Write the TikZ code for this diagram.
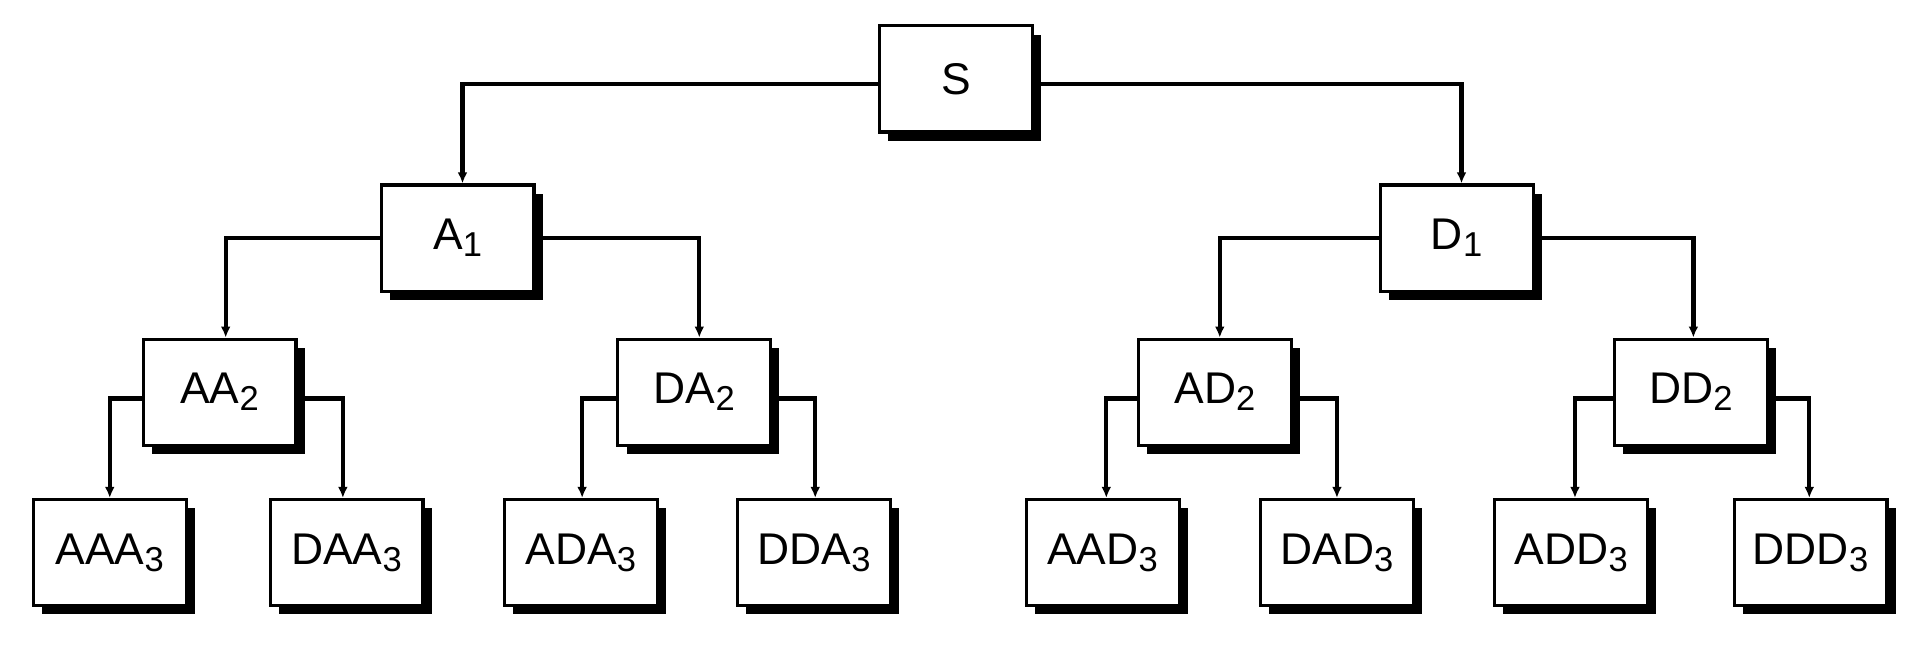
\documentclass[tikz,border=0pt]{standalone}
\usepackage{fontspec}
\setmainfont{Liberation Sans}
\usetikzlibrary{shadows,arrows.meta}
\newcommand{\sbs}[1]{\raisebox{-0.3ex}{\fontsize{28}{30}\selectfont #1}}
\begin{document}
\begin{tikzpicture}[x=1pt,y=-1pt,
  box/.style={draw,line width=2.5pt,fill=white,minimum width=124pt,minimum height=86pt,inner sep=0pt,
    font=\fontsize{36}{40}\selectfont,
    drop shadow={shadow xshift=7pt,shadow yshift=-7pt,fill=black,opacity=1}},
  conn/.style={line width=3.5pt,-{Latex[length=9pt,width=8pt]}},
]
\useasboundingbox (0,0) rectangle (1560,535);
\node[box] (S) at (775,64) {S};
\node[box] (A1) at (371,193) {A\sbs{1}};
\node[box] (D1) at (1181,193) {D\sbs{1}};
\node[box] (AA2) at (178,318) {AA\sbs{2}};
\node[box] (DA2) at (563,318) {DA\sbs{2}};
\node[box] (AD2) at (985,318) {AD\sbs{2}};
\node[box] (DD2) at (1371,318) {DD\sbs{2}};
\foreach \n/\t/\x in {AAA3/AAA/89,DAA3/DAA/281,ADA3/ADA/471,DDA3/DDA/660,AAD3/AAD/894,DAD3/DAD/1084,ADD3/ADD/1274,DDD3/DDD/1468}
  \node[box] (\n) at (\x,448) {\t\sbs{3}};
\draw[conn] (S.west|-0,68) -| (A1.north-|375,0);
\draw[conn] (S.east|-0,68) -| (D1.north-|1185,0);
\draw[conn] (A1.west|-0,193) -| (AA2.north-|183,0);
\draw[conn] (A1.east|-0,193) -| (DA2.north-|567,0);
\draw[conn] (D1.west|-0,193) -| (AD2.north-|989,0);
\draw[conn] (D1.east|-0,193) -| (DD2.north-|1373,0);
\draw[conn] (AA2.west|-0,323) -| (AAA3.north-|89,0);
\draw[conn] (AA2.east|-0,323) -| (DAA3.north-|278,0);
\draw[conn] (DA2.west|-0,323) -| (ADA3.north-|472,0);
\draw[conn] (DA2.east|-0,323) -| (DDA3.north-|661,0);
\draw[conn] (AD2.west|-0,323) -| (AAD3.north-|897,0);
\draw[conn] (AD2.east|-0,323) -| (DAD3.north-|1084,0);
\draw[conn] (DD2.west|-0,323) -| (ADD3.north-|1277,0);
\draw[conn] (DD2.east|-0,323) -| (DDD3.north-|1467,0);
\end{tikzpicture}
\end{document}
